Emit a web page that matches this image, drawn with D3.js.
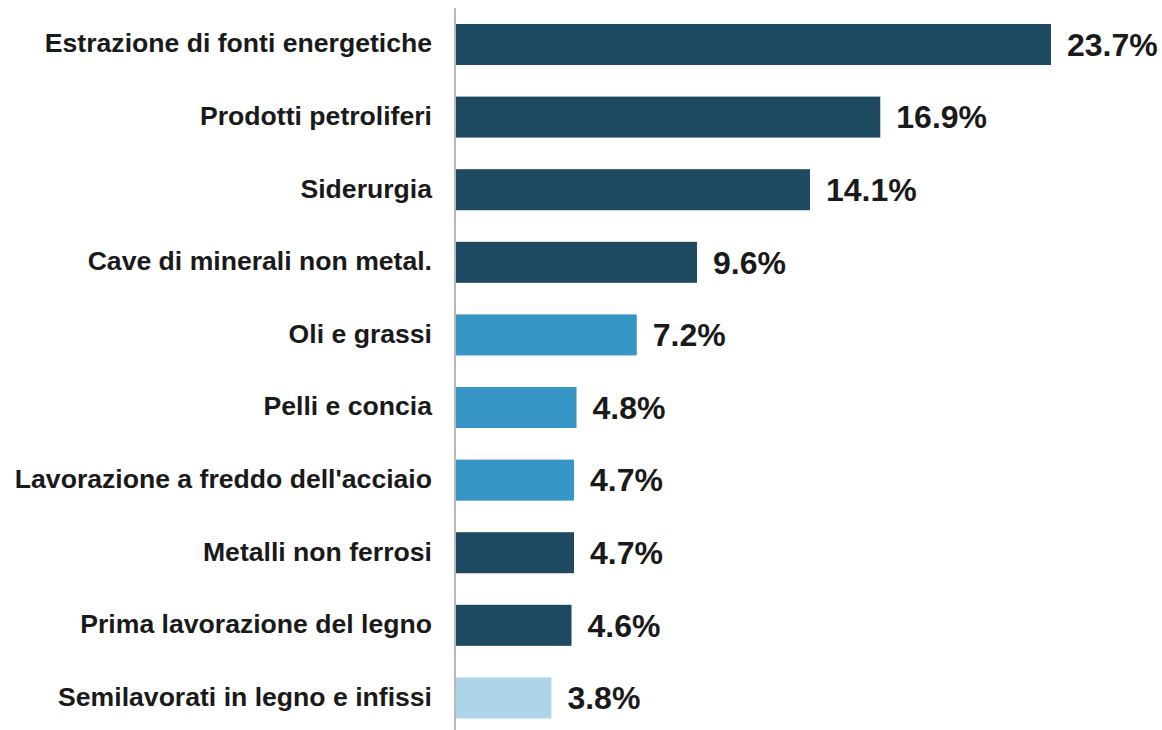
<!DOCTYPE html>
<html>
<head>
<meta charset="utf-8">
<script src="https://cdn.jsdelivr.net/npm/d3@7"></script>
<style>
  body { margin: 0; background: #fff; }
  text { font-family: "Liberation Sans", Arial, sans-serif; font-weight: bold; fill: #1a1a1a; }
</style>
</head>
<body>
<div id="chart"></div>
<script>
const categories = [
  "Estrazione di fonti energetiche",
  "Prodotti petroliferi",
  "Siderurgia",
  "Cave di minerali non metal.",
  "Oli e grassi",
  "Pelli e concia",
  "Lavorazione a freddo dell'acciaio",
  "Metalli non ferrosi",
  "Prima lavorazione del legno",
  "Semilavorati in legno e infissi"
]
const values = [23.7, 16.9, 14.1, 9.6, 7.2, 4.8, 4.7, 4.7, 4.6, 3.8]
const groups = ["dark", "dark", "dark", "dark", "mid", "mid", "mid", "dark", "dark", "light"]

const colors = { dark: "#1d4a60", mid: "#3795c5", light: "#acd5e8" }

const width = 1162
const height = 730
const x0 = 456

const svg = d3.select("#chart").append("svg")
  .attr("width", width)
  .attr("height", height)

const xScale = d3.scaleLinear()
  .domain([0, 23.7])
  .range([x0, 1051])

const step = 72.6
const pad = 0.435
const yScale = d3.scaleBand()
  .domain(categories)
  .range([24 - pad * step, 24 - pad * step + step * (categories.length + pad)])
  .padding(pad)

// bars
svg.selectAll("rect.bar")
  .data(categories)
  .enter().append("rect")
    .attr("class", "bar")
    .attr("x", xScale(0))
    .attr("y", d => yScale(d))
    .attr("width", (d, i) => xScale(values[i]) - xScale(0))
    .attr("height", yScale.bandwidth())
    .attr("fill", (d, i) => colors[groups[i]])

// axis line
svg.append("line")
  .attr("x1", x0 - 1).attr("x2", x0 - 1)
  .attr("y1", 8).attr("y2", height)
  .attr("stroke", "#b8b8b8")
  .attr("stroke-width", 2)

// category labels
svg.selectAll("text.cat")
  .data(categories)
  .enter().append("text")
    .attr("class", "cat")
    .attr("x", 432)
    .attr("y", d => yScale(d) + yScale.bandwidth() / 2)
    .attr("dy", "0.3em")
    .attr("text-anchor", "end")
    .attr("font-size", 26.6)
    .text(d => d)

// value labels
svg.selectAll("text.val")
  .data(categories)
  .enter().append("text")
    .attr("class", "val")
    .attr("x", (d, i) => xScale(values[i]) + 16)
    .attr("y", d => yScale(d) + yScale.bandwidth() / 2)
    .attr("dy", "0.35em")
    .attr("font-size", 32)
    .text((d, i) => values[i].toFixed(1) + "%")
</script>
</body>
</html>
